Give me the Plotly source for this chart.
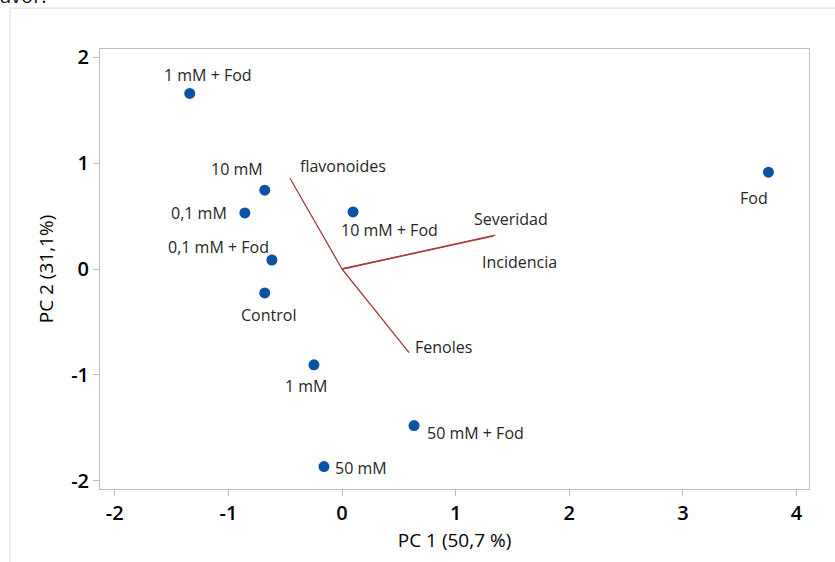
import plotly.graph_objects as go

# Scores
labels = ["1 mM + Fod", "10 mM", "0,1 mM", "10 mM + Fod", "0,1 mM + Fod",
          "Control", "1 mM", "50 mM + Fod", "50 mM", "Fod"]
pc1 = [-1.34, -0.68, -0.855, 0.097, -0.617, -0.68, -0.247, 0.634, -0.159, 3.753]
pc2 = [1.66, 0.745, 0.53, 0.54, 0.085, -0.226, -0.906, -1.48, -1.868, 0.915]
# label offsets in pixels (dx, dy; dy positive = up)
lab_dx = [18, -28, -46, 36, -53, 4, -7, 61, 37, -14]
lab_dy = [18, 21, 0, -18, 13, -22, -21, -7, -1, -26]

# Loadings
vars_ = ["flavonoides", "Fenoles", "Severidad", "Incidencia"]
load1 = [-0.458, 0.59, 1.348, 1.33]
load2 = [0.858, -0.79, 0.32, 0.31]
var_dx = [53, 34, 16, 26]
var_dy = [12, 6, 16, -26]

# Ticks
xtickvals = [-2, -1, 0, 1, 2, 3, 4]
xticktext = ["-2", "-1", "0", "1", "2", "3", "4"]
ytickvals = [-2, -1, 0, 1, 2]
yticktext = ["-2", "-1", "0", "1", "2"]

fig = go.Figure()

for v, a, b in zip(vars_, load1, load2):
    fig.add_trace(go.Scatter(x=[0, a], y=[0, b], mode="lines",
                             line=dict(color="#a83a3a", width=1.3),
                             hoverinfo="skip", showlegend=False))

fig.add_trace(go.Scatter(x=pc1, y=pc2, mode="markers",
                         marker=dict(color="#0a52a5", size=11),
                         text=labels, showlegend=False))

lab_font = dict(family="Open Sans", size=16, color="#262626")
annots = []
for t, x, y, dx, dy in zip(labels, pc1, pc2, lab_dx, lab_dy):
    annots.append(dict(x=x, y=y, xref="x", yref="y", text=t, showarrow=False,
                       xshift=dx, yshift=dy, font=lab_font))
for t, x, y, dx, dy in zip(vars_, load1, load2, var_dx, var_dy):
    annots.append(dict(x=x, y=y, xref="x", yref="y", text=t, showarrow=False,
                       xshift=dx, yshift=dy, font=lab_font))

# cropped text from the page above
annots.append(dict(x=-0.1439, y=1.0864, xref="paper", yref="paper", text="avor.",
                   showarrow=False, xanchor="left", yanchor="bottom",
                   font=dict(family="Open Sans", size=20, color="#111")))

tick_font = dict(family="Open Sans", size=20, color="black", weight=600)
title_font = dict(family="Open Sans", size=19, color="black", weight=500)

fig.update_layout(
    width=835, height=562,
    margin=dict(l=100, r=26, t=49, b=73),
    paper_bgcolor="white", plot_bgcolor="white",
    annotations=annots,
    shapes=[
        dict(type="line", xref="paper", yref="paper", x0=-0.127, x1=-0.127,
             y0=1.093, y1=-0.2, line=dict(color="#dcdcdc", width=1)),
        dict(type="line", xref="paper", yref="paper", x0=-0.127, x1=1.1,
             y0=1.093, y1=1.093, line=dict(color="#dcdcdc", width=1)),
    ],
    xaxis=dict(range=[-2.13, 4.11], tickvals=xtickvals, ticktext=xticktext,
               showgrid=False, zeroline=False, showline=True, mirror=True,
               linecolor="#bdbdbd", linewidth=1, ticks="outside", ticklen=6,
               tickcolor="#bdbdbd", tickfont=tick_font,
               title=dict(text="PC 1 (50,7 %)", standoff=8, font=title_font)),
    yaxis=dict(range=[-2.08, 2.08], tickvals=ytickvals, ticktext=yticktext,
               showgrid=False, zeroline=False, showline=True, mirror=True,
               linecolor="#bdbdbd", linewidth=1, ticks="outside", ticklen=6,
               tickcolor="#bdbdbd", tickfont=tick_font,
               title=dict(text="PC 2 (31,1%)", standoff=12, font=title_font)),
)

fig.write_html("out.html")
